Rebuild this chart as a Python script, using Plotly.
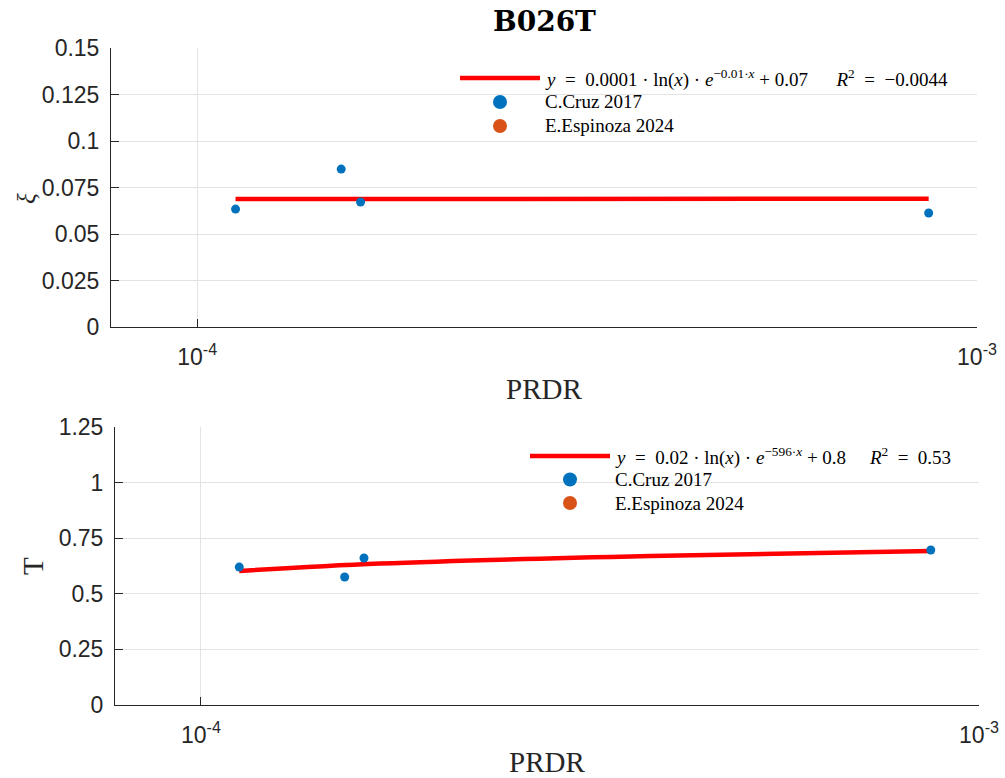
import plotly.graph_objects as go

# ---------------- data ----------------
prdr = [1.12e-4, 1.53e-4, 1.62e-4, 8.67e-4]
xi_cruz = [0.0634, 0.0849, 0.0672, 0.0613]
T_cruz = [0.620, 0.5755, 0.661, 0.697]

fit_x_top = [1.12e-4, 8.67e-4]
fit_y_top = [0.0688, 0.0690]
fit_x_bot = [1.12e-4, 1.70e-4, 3.78e-4, 8.67e-4]
fit_y_bot = [0.6025, 0.636, 0.670, 0.692]

NB = "\u00a0"
title = "B026T"
x_label = "PRDR"
y_labels = ["<i>ξ</i>", "T"]
legend_top = [f"<i>y</i>{NB*2}={NB*2}0.0001{NB}·{NB}ln(<i>x</i>){NB}·{NB}<i>e</i><sup>−0.01·<i>x</i></sup>{NB}+{NB}0.07{NB*6}<i>R</i><sup>2</sup>{NB*2}={NB*2}−0.0044",
              "C.Cruz 2017", "E.Espinoza 2024"]
legend_bot = [f"<i>y</i>{NB*2}={NB*2}0.02{NB}·{NB}ln(<i>x</i>){NB}·{NB}<i>e</i><sup>−596·<i>x</i></sup>{NB}+{NB}0.8{NB*5}<i>R</i><sup>2</sup>{NB*2}={NB*2}0.53",
              "C.Cruz 2017", "E.Espinoza 2024"]
yt_top = [0, 0.025, 0.05, 0.075, 0.1, 0.125, 0.15]
yt_top_txt = ["0", "0.025", "0.05", "0.075", "0.1", "0.125", "0.15"]
yt_bot = [0, 0.25, 0.5, 0.75, 1, 1.25]
yt_bot_txt = ["0", "0.25", "0.5", "0.75", "1", "1.25"]
xt = [1e-4, 1e-3]
xt_txt = ["10<sup>-4</sup>", "10<sup>-3</sup>"]

BLUE = "#0072BD"
ORANGE = "#D95319"
RED = "#FF0000"
W, H = 1005, 778
SERIF = "Liberation Serif"
SANS = "Liberation Sans"


def px(x):
    return x / W


def py(y):
    return 1 - y / H


fig = go.Figure()

# top panel
fig.add_trace(go.Scatter(x=fit_x_top, y=fit_y_top, mode="lines", line=dict(color=RED, width=4.5),
                         name="fit", showlegend=False, xaxis="x", yaxis="y"))
fig.add_trace(go.Scatter(x=prdr, y=xi_cruz, mode="markers", marker=dict(color=BLUE, size=9),
                         name="C.Cruz 2017", showlegend=False, xaxis="x", yaxis="y"))
fig.add_trace(go.Scatter(x=[], y=[], mode="markers", marker=dict(color=ORANGE, size=9),
                         name="E.Espinoza 2024", showlegend=False, xaxis="x", yaxis="y"))
# bottom panel
fig.add_trace(go.Scatter(x=fit_x_bot, y=fit_y_bot, mode="lines", line=dict(color=RED, width=4.5, shape="spline"),
                         name="fit", showlegend=False, xaxis="x2", yaxis="y2"))
fig.add_trace(go.Scatter(x=prdr, y=T_cruz, mode="markers", marker=dict(color=BLUE, size=9),
                         name="C.Cruz 2017", showlegend=False, xaxis="x2", yaxis="y2"))
fig.add_trace(go.Scatter(x=[], y=[], mode="markers", marker=dict(color=ORANGE, size=9),
                         name="E.Espinoza 2024", showlegend=False, xaxis="x2", yaxis="y2"))

axis_common = dict(
    showline=True, linecolor="#262626", linewidth=1,
    ticks="inside", ticklen=8, tickwidth=1.3, tickcolor="#262626",
    showgrid=True, gridcolor="#e3e3e3", gridwidth=1,
    zeroline=False, tickfont=dict(family=SANS, size=23, color="#262626"),
    mirror=False, automargin=False,
)
label_font = dict(family=SERIF, size=29, color="#262626")

xr = [-4.1105, -3.0]
fig.update_layout(
    template="none",
    width=W, height=H, margin=dict(l=0, r=0, t=0, b=0, autoexpand=False),
    paper_bgcolor="white", plot_bgcolor="white", showlegend=False,
    xaxis=dict(axis_common, type="log", range=xr, domain=[px(111), px(977)], anchor="y",
               tickvals=xt, ticktext=xt_txt, ticklabelstandoff=9,
               title=dict(text=x_label, font=label_font, standoff=10)),
    yaxis=dict(axis_common, range=[0, 0.15], domain=[py(327), py(48)], anchor="x",
               tickvals=yt_top, ticktext=yt_top_txt, ticklabelstandoff=6),
    xaxis2=dict(axis_common, type="log", range=xr, domain=[px(115), px(979)], anchor="y2",
                tickvals=xt, ticktext=xt_txt, ticklabelstandoff=9,
                title=dict(text=x_label, font=label_font, standoff=10)),
    yaxis2=dict(axis_common, range=[0, 1.25], domain=[py(705), py(427)], anchor="x2",
                tickvals=yt_bot, ticktext=yt_bot_txt, ticklabelstandoff=6),
)

annotations = [
    dict(text="<b>" + title + "</b>", x=px(544), y=py(22), xref="paper", yref="paper",
         xanchor="center", yanchor="middle", showarrow=False,
         font=dict(family="DejaVu Serif", size=28, color="black")),
    dict(text=y_labels[0], x=px(27), y=py(199), xref="paper", yref="paper",
         xanchor="center", yanchor="middle", showarrow=False, textangle=-90,
         font=dict(family=SERIF, size=25, color="#262626")),
    dict(text=y_labels[1], x=px(33), y=py(566), xref="paper", yref="paper",
         xanchor="center", yanchor="middle", showarrow=False, textangle=-90,
         font=label_font),
]
shapes = []


def add_legend(line_x0, line_x1, ly, marker_x, text_x, dy, texts):
    shapes.append(dict(type="line", xref="paper", yref="paper",
                       x0=px(line_x0), x1=px(line_x1), y0=py(ly), y1=py(ly),
                       line=dict(color=RED, width=4.5)))
    r = 7
    for i, c in enumerate([BLUE, ORANGE]):
        cy = ly + dy * (i + 1)
        shapes.append(dict(type="circle", xref="paper", yref="paper",
                           x0=px(marker_x - r), x1=px(marker_x + r),
                           y0=py(cy + r), y1=py(cy - r),
                           fillcolor=c, line=dict(color=c, width=0)))
    for i, t in enumerate(texts):
        annotations.append(dict(text=t, x=px(text_x), y=py(ly + dy * i), xref="paper", yref="paper",
                                xanchor="left", yanchor="middle", showarrow=False,
                                font=dict(family=SERIF, size=19, color="black")))


add_legend(460, 540, 78, 500, 543, 24, legend_top)
add_legend(530, 610, 456, 570, 613, 23.5, legend_bot)

fig.update_layout(annotations=annotations, shapes=shapes)
fig.write_html("out.html", config={"displayModeBar": False},
               post_script="document.body.style.margin='0';document.body.style.padding='0';"
                           "document.body.style.overflow='hidden';")
